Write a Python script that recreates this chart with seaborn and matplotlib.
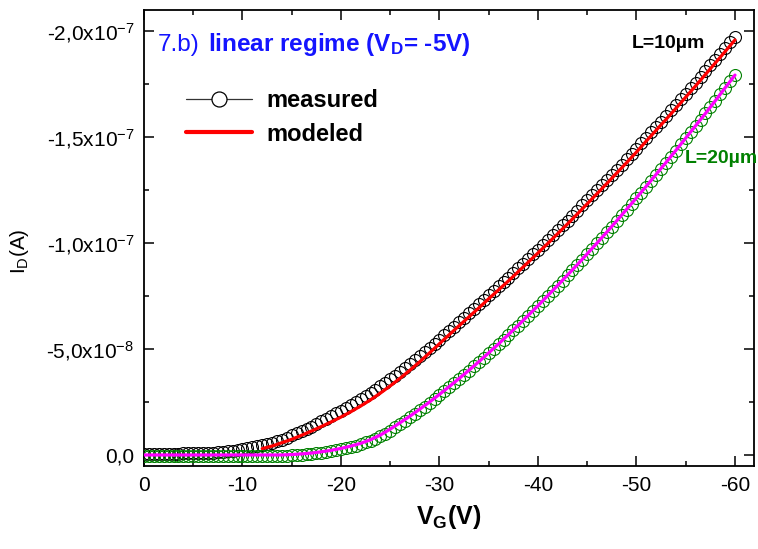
import numpy as np
import pandas as pd
import matplotlib
matplotlib.use("Agg")
import matplotlib.pyplot as plt
import seaborn as sns
from matplotlib.lines import Line2D

# ---------------- data (drain current in units of 1e-8 A, magnitude) ----------------
VG_MEAS = np.arange(0, -60.5, -0.5)          # measured sweep, 0 .. -60 V
VG_MODEL_L10 = np.arange(-12, -61, -1)       # model L=10um, -12 .. -60 V
VG_MODEL_L20 = np.arange(0, -61, -1)         # model L=20um, 0 .. -60 V

ID_MEAS_L10 = [
    0.06, 0.06, 0.06, 0.06, 0.06, 0.06, 0.06,
    0.06, 0.07, 0.07, 0.08, 0.08, 0.09, 0.10, 0.11,
    0.13, 0.15, 0.18, 0.21, 0.24, 0.28, 0.32, 0.36, 0.40, 0.45, 0.51, 0.57, 0.64, 0.72,
    0.82, 0.92, 1.02, 1.12, 1.23, 1.34, 1.46, 1.58, 1.70, 1.83, 1.96, 2.09,
    2.22, 2.36, 2.50, 2.64, 2.78, 2.93, 3.08, 3.24, 3.40, 3.57, 3.74, 3.91, 4.09, 4.27, 4.46, 4.65, 4.84, 5.04, 5.24, 5.44,
    5.64, 5.85, 6.05, 6.26, 6.47, 6.68, 6.89, 7.11, 7.32, 7.53, 7.74, 7.95, 8.16, 8.37, 8.59, 8.81, 9.03, 9.25, 9.47, 9.69,
    9.91, 10.14, 10.37, 10.60, 10.83, 11.06, 11.29, 11.53, 11.77, 12.01, 12.25, 12.49, 12.73, 12.97, 13.21, 13.46, 13.70, 13.95, 14.20, 14.45,
    14.71, 14.97, 15.22, 15.48, 15.73, 15.99, 16.25, 16.51, 16.77, 17.04, 17.30, 17.57, 17.84, 18.11, 18.38, 18.65, 18.92, 19.19, 19.46, 19.73,
]
ID_MEAS_L20 = [
    -0.04, -0.04, -0.04, -0.04, -0.04, -0.04, -0.04, -0.04, -0.04, -0.04,
    -0.04, -0.04, -0.04, -0.04, -0.04, -0.04, -0.04, -0.04, -0.04, -0.04,
    -0.04, -0.04, -0.04, -0.04, -0.04, -0.04, -0.04, -0.04, -0.04,
    -0.03, -0.02, -0.01, 0.01, 0.03, 0.05, 0.08, 0.11, 0.14, 0.18, 0.22, 0.27,
    0.32, 0.38, 0.44, 0.51, 0.59, 0.67, 0.77, 0.88, 1.01, 1.15, 1.30, 1.45, 1.61, 1.77, 1.94, 2.11, 2.28, 2.46, 2.64, 2.83,
    3.01, 3.20, 3.39, 3.58, 3.78, 3.98, 4.18, 4.38, 4.59, 4.80, 5.01, 5.22, 5.44, 5.66, 5.88, 6.10, 6.33, 6.56, 6.79, 7.02,
    7.26, 7.50, 7.74, 7.98, 8.22, 8.47, 8.72, 8.97, 9.22, 9.47, 9.72, 9.98, 10.24, 10.50, 10.76, 11.03, 11.30, 11.57, 11.84, 12.11,
    12.38, 12.66, 12.94, 13.22, 13.50, 13.78, 14.07, 14.36, 14.65, 14.94, 15.23, 15.52, 15.81, 16.11, 16.41, 16.71, 17.01, 17.32, 17.63, 17.94,
]
ID_MODEL_L10 = [
    0.30, 0.42, 0.58, 0.74, 0.93, 1.13, 1.34, 1.56, 1.79, 2.04, 2.31, 2.60, 2.92, 3.26, 3.62, 4.00,
    4.40, 4.82, 5.25, 5.68, 6.10, 6.52, 6.94, 7.37, 7.79, 8.21, 8.65, 9.09, 9.53, 9.98, 10.44, 10.90,
    11.37, 11.85, 12.33, 12.81, 13.30, 13.79, 14.29, 14.81, 15.32, 15.83, 16.35, 16.88, 17.41, 17.95,
    18.49, 19.03, 19.58,
]
ID_MODEL_L20 = [
    0.0, 0.0, 0.0, 0.0, 0.0, 0.0, 0.0, 0.0, 0.0, 0.0, 0.0, 0.0, 0.0, 0.0, 0.0,
    0.02, 0.05, 0.09, 0.15, 0.22, 0.31, 0.42, 0.55, 0.72, 0.94, 1.22, 1.52, 1.83, 2.16, 2.50,
    2.86, 3.23, 3.61, 4.00, 4.40, 4.82, 5.24, 5.68, 6.12, 6.58, 7.04, 7.52, 8.00, 8.49, 8.98,
    9.49, 10.00, 10.52, 11.05, 11.59, 12.13, 12.68, 13.24, 13.80, 14.37, 14.95, 15.53, 16.11,
    16.71, 17.32, 17.92,
]

X_TICKS = [0, -10, -20, -30, -40, -50, -60]
X_TICK_LABELS = ["0", "-10", "-20", "-30", "-40", "-50", "-60"]
Y_TICKS = [0.0, -5e-8, -1e-7, -1.5e-7, -2e-7]
Y_TICK_LABELS = ["0,0", r"-5,0x10$^{-8}$", r"-1,0x10$^{-7}$", r"-1,5x10$^{-7}$", r"-2,0x10$^{-7}$"]

SCALE = -1e-8
df_m10 = pd.DataFrame({"VG": VG_MEAS, "ID": np.array(ID_MEAS_L10) * SCALE})
df_m20 = pd.DataFrame({"VG": VG_MEAS, "ID": np.array(ID_MEAS_L20) * SCALE})
df_f10 = pd.DataFrame({"VG": VG_MODEL_L10, "ID": np.array(ID_MODEL_L10) * SCALE})
df_f20 = pd.DataFrame({"VG": VG_MODEL_L20, "ID": np.array(ID_MODEL_L20) * SCALE})

# ---------------- style ----------------
sns.set_theme(style="ticks")
plt.rcParams["font.family"] = ["Liberation Sans", "DejaVu Sans"]
plt.rcParams["mathtext.fontset"] = "custom"
plt.rcParams["mathtext.rm"] = "Liberation Sans"
plt.rcParams["mathtext.it"] = "Liberation Sans:italic"
plt.rcParams["mathtext.bf"] = "Liberation Sans:bold"
for key in ["text.color", "axes.labelcolor", "xtick.color", "ytick.color", "axes.edgecolor"]:
    plt.rcParams[key] = "black"

W, H = 758, 549
fig = plt.figure(figsize=(W / 100, H / 100), dpi=100)
ax = fig.add_axes([144 / W, 1 - 466 / H, 610 / W, 456 / H])

# measured (open circles)
sns.lineplot(data=df_m10, x="VG", y="ID", ax=ax, marker="o", linestyle="", markersize=8.6,
             markerfacecolor="none", markeredgecolor="black", markeredgewidth=0.8,
             color="black", zorder=2)
sns.lineplot(data=df_m20, x="VG", y="ID", ax=ax, marker="o", linestyle="", markersize=8.6,
             markerfacecolor="none", markeredgecolor="#008000", markeredgewidth=0.8,
             color="#008000", zorder=3)
# model lines
sns.lineplot(data=df_f10, x="VG", y="ID", ax=ax, color="#ff0000", linewidth=2.3, zorder=4)
sns.lineplot(data=df_f20, x="VG", y="ID", ax=ax, color="#ff00ff", linewidth=2.3, zorder=5)

ax.set_xlim(0, -61.93)
ax.set_ylim(5.2e-9, -2.099e-7)

ax.set_xticks(X_TICKS)
ax.set_xticklabels(X_TICK_LABELS)
ax.set_xticks([-5, -15, -25, -35, -45, -55], minor=True)
ax.set_yticks(Y_TICKS)
ax.set_yticklabels(Y_TICK_LABELS)
ax.set_yticks([-2.5e-8, -7.5e-8, -1.25e-7, -1.75e-7], minor=True)

ax.tick_params(which="both", direction="in", top=True, right=True, width=1.1, color="black")
ax.tick_params(which="major", length=7, labelsize=15, pad=7, labelcolor="black")
ax.tick_params(which="minor", length=3.8)
for sp in ax.spines.values():
    sp.set_color("black")
    sp.set_linewidth(1.3)
    sp.set_visible(True)

ax.set_xlabel(r"V$_{\mathbf{G}}$(V)", fontsize=18, fontweight="bold", color="black", labelpad=6)
ax.set_ylabel(r"I$_{\mathrm{D}}$(A)", fontsize=15, color="black")
ax.yaxis.set_label_coords(-0.185, 0.47)

# title-like annotation
fig.text(158 / W, 1 - 51 / H, "7.b)", color="#1414ff", fontsize=17.5, va="baseline")
fig.text(208 / W, 1 - 51 / H, r"linear regime ($\mathbf{V}_{\mathbf{D}}$= -5V)", color="#1414ff",
         fontsize=17.5, fontweight="bold", va="baseline")

# curve labels
fig.text(632 / W, 1 - 48 / H, "L=10µm", color="black", fontsize=14, fontweight="bold", va="baseline")
fig.text(685 / W, 1 - 163 / H, "L=20µm", color="#008000", fontsize=14, fontweight="bold", va="baseline")

# legend
handles = [
    Line2D([], [], color="#333333", lw=0.9, marker="o", ms=10.8, mfc="white", mec="black", mew=0.9),
    Line2D([], [], color="#ff0000", lw=3),
]
leg = ax.legend(handles, ["measured", "modeled"], loc="upper left",
                bbox_to_anchor=(186 / W, 1 - 89 / H), bbox_transform=fig.transFigure,
                frameon=False, prop={"weight": "bold", "size": 17},
                handlelength=2.8, handletextpad=0.6, labelspacing=0.45,
                borderpad=0, borderaxespad=0)
for t in leg.get_texts():
    t.set_color("black")

fig.savefig("out.png", dpi=100)
